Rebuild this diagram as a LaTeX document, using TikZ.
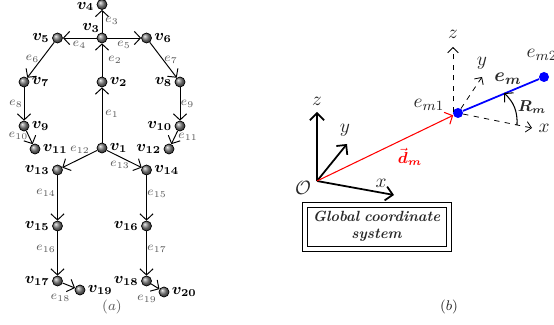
\documentclass[tikz,border=0pt]{standalone}
\usepackage{xcolor}
\usepackage{amsmath}
\usepackage{tikz}
\usetikzlibrary{arrows.meta, positioning, calc, shapes.geometric}
\definecolor{mytext}{RGB}{40,40,40}
\definecolor{myedge}{RGB}{90,90,90}
\tikzset{
  joint/.style={circle, draw=black, line width=0.4pt, shading=ball, ball color=black!50,
    minimum size=0.2cm, inner sep=0pt},
  endpt/.style={circle, fill=blue, minimum size=0.2cm, inner sep=0pt},
  vlabel/.style={font=\fontsize{8.6}{10}\selectfont, inner sep=1.2pt},
  elabel/.style={font=\scriptsize, text=myedge, inner sep=0pt},
  axlabel/.style={font=\fontsize{11}{13}\selectfont, text=mytext, inner sep=0pt},
  bone/.style={-{Straight Barb[length=3.5pt,width=7.5pt]}, line width=0.55pt, color=black},
  axis/.style={-{Straight Barb[length=4pt,width=8pt]}, line width=1pt, color=black},
  dashaxis/.style={-{Straight Barb[length=3pt,width=6pt]}, dashed, line width=0.45pt, color=black},
  outerbox/.style={rectangle, draw=black, line width=0.5pt, minimum width=2.98cm, minimum height=0.98cm},
  framebox/.style={rectangle, draw=black, line width=0.5pt, minimum width=2.78cm, minimum height=0.78cm,
    text width=2.7cm, align=center, font=\fontsize{8.4}{9.8}\selectfont\bfseries\itshape, text=mytext, inner sep=0pt}
}
\begin{document}
\begin{tikzpicture}[font=\small]
  \useasboundingbox (0,0) rectangle (11.08,6.5);

  % Skeleton joints
  \node[joint, label={[vlabel]right:$\boldsymbol{v_{1}}$}] (v1) at (2.04,3.54) {};
  \node[joint, label={[vlabel]right:$\boldsymbol{v_{2}}$}] (v2) at (2.04,4.86) {};
  \node[joint] (v3) at (2.04,5.74) {};
  \node[joint, label={[vlabel, yshift=-1.2pt]left:$\boldsymbol{v_{4}}$}] (v4) at (2.04,6.41) {};
  \node[joint, label={[vlabel]left:$\boldsymbol{v_{5}}$}] (v5) at (1.15,5.74) {};
  \node[joint, label={[vlabel]right:$\boldsymbol{v_{6}}$}] (v6) at (2.93,5.74) {};
  \node[joint, label={[vlabel]right:$\boldsymbol{v_{7}}$}] (v7) at (0.48,4.86) {};
  \node[joint, label={[vlabel]left:$\boldsymbol{v_{8}}$}] (v8) at (3.60,4.86) {};
  \node[joint, label={[vlabel]right:$\boldsymbol{v_{9}}$}] (v9) at (0.48,3.98) {};
  \node[joint, label={[vlabel]left:$\boldsymbol{v_{10}}$}] (v10) at (3.60,3.98) {};
  \node[joint, label={[vlabel]right:$\boldsymbol{v_{11}}$}] (v11) at (0.70,3.52) {};
  \node[joint, label={[vlabel]left:$\boldsymbol{v_{12}}$}] (v12) at (3.38,3.52) {};
  \node[joint, label={[vlabel]left:$\boldsymbol{v_{13}}$}] (v13) at (1.15,3.10) {};
  \node[joint, label={[vlabel]right:$\boldsymbol{v_{14}}$}] (v14) at (2.93,3.10) {};
  \node[joint, label={[vlabel]left:$\boldsymbol{v_{15}}$}] (v15) at (1.15,1.98) {};
  \node[joint, label={[vlabel]left:$\boldsymbol{v_{16}}$}] (v16) at (2.93,1.98) {};
  \node[joint, label={[vlabel]left:$\boldsymbol{v_{17}}$}] (v17) at (1.15,0.88) {};
  \node[joint, label={[vlabel]left:$\boldsymbol{v_{18}}$}] (v18) at (2.93,0.88) {};
  \node[joint, label={[vlabel]right:$\boldsymbol{v_{19}}$}] (v19) at (1.60,0.70) {};
  \node[joint, label={[vlabel]right:$\boldsymbol{v_{20}}$}] (v20) at (3.28,0.66) {};
  \node[vlabel] (v3lab) at (1.82,5.94) {$\boldsymbol{v_{3}}$};

  % Bones
  \draw[bone] (v1) -- (v2);
  \draw[bone] (v2) -- (v3);
  \draw[bone] (v3) -- (v4);
  \draw[bone] (v3) -- (v5);
  \draw[bone] (v3) -- (v6);
  \draw[bone] (v5) -- (v7);
  \draw[bone] (v6) -- (v8);
  \draw[bone] (v7) -- (v9);
  \draw[bone] (v8) -- (v10);
  \draw[bone] (v9) -- (v11);
  \draw[bone] (v10) -- (v12);
  \draw[bone] (v1) -- (v13);
  \draw[bone] (v1) -- (v14);
  \draw[bone] (v13) -- (v15);
  \draw[bone] (v14) -- (v16);
  \draw[bone] (v15) -- (v17);
  \draw[bone] (v16) -- (v18);
  \draw[bone] (v17) -- (v19);
  \draw[bone] (v18) -- (v20);

  % Bone labels
  \node[elabel] (e1) at (2.24,4.22) {$e_{1}$};
  \node[elabel] (e2) at (2.30,5.30) {$e_{2}$};
  \node[elabel] (e3) at (2.24,6.08) {$e_{3}$};
  \node[elabel] (e4) at (1.59,5.60) {$e_{4}$};
  \node[elabel] (e5) at (2.48,5.60) {$e_{5}$};
  \node[elabel] (e6) at (0.65,5.32) {$e_{6}$};
  \node[elabel] (e7) at (3.42,5.30) {$e_{7}$};
  \node[elabel] (e8) at (0.32,4.42) {$e_{8}$};
  \node[elabel] (e9) at (3.75,4.42) {$e_{9}$};
  \node[elabel] (e10) at (0.37,3.78) {$e_{10}$};
  \node[elabel] (e11) at (3.76,3.76) {$e_{11}$};
  \node[elabel] (e12) at (1.60,3.50) {$e_{12}$};
  \node[elabel] (e13) at (2.40,3.20) {$e_{13}$};
  \node[elabel] (e14) at (0.92,2.64) {$e_{14}$};
  \node[elabel] (e15) at (3.14,2.62) {$e_{15}$};
  \node[elabel] (e16) at (0.92,1.52) {$e_{16}$};
  \node[elabel] (e17) at (3.14,1.52) {$e_{17}$};
  \node[elabel] (e18) at (1.21,0.54) {$e_{18}$};
  \node[elabel] (e19) at (2.94,0.52) {$e_{19}$};
  \node[elabel, font=\footnotesize] (capa) at (2.24,0.36) {$(a)$};
  \node[axlabel, font=\footnotesize] (capb) at (8.98,0.36) {$(b)$};

  % Global frame
  \coordinate (orig) at (6.34,2.88);
  \node[axlabel] (olab) at (6.06,2.74) {$\mathcal{O}$};
  \coordinate (ztip) at (6.34,4.26);
  \coordinate (ytip) at (6.94,3.62);
  \coordinate (xtip) at (7.88,2.60);
  \draw[axis] (orig) -- (ztip);
  \draw[axis] (orig) -- (ytip);
  \draw[axis] (orig) -- (xtip);
  \node[axlabel] (zlab) at (6.34,4.48) {$z$};
  \node[axlabel] (ylab) at (6.90,3.90) {$y$};
  \node[axlabel] (xlab) at (7.62,2.84) {$x$};
  \node[outerbox] (globout) at (7.53,1.97) {};
  \node[framebox] (glob) at (7.53,1.97) {Global coordinate\\system};

  % Local frame
  \node[endpt] (em1) at (9.16,4.24) {};
  \node[endpt] (em2) at (10.88,4.96) {};
  \draw[blue, line width=1pt] (em1) -- (em2);
  \draw[-{Straight Barb[length=3.5pt,width=7.5pt]}, red, line width=0.6pt] (orig) -- (em1);
  \coordinate (zloc) at (9.06,5.56);
  \coordinate (zbase) at (9.06,4.26);
  \coordinate (yloc) at (9.64,4.96);
  \coordinate (xloc) at (10.64,3.94);
  \draw[dashaxis] (zbase) -- (zloc);
  \draw[dashaxis] (em1) -- (yloc);
  \draw[dashaxis] (em1) -- (xloc);
  \coordinate (arcs) at (10.34,4.0);
  \coordinate (arce) at (10.08,4.64);
  \draw[-{Straight Barb[length=3.5pt,width=7.5pt]}, line width=0.6pt] (arcs) to[bend right=25] (arce);

  \node[axlabel] (em1lab) at (8.58,4.40) {$e_{m1}$};
  \node[axlabel] (em2lab) at (10.84,5.40) {$e_{m2}$};
  \node[axlabel] (emlab) at (10.16,4.92) {$\boldsymbol{e_{m}}$};
  \node[axlabel, font=\small] (rlab) at (10.64,4.36) {$\boldsymbol{R_{m}}$};
  \node[axlabel, font=\small, text=red] (dlab) at (8.20,3.36) {$\vec{\boldsymbol{d}}_{\boldsymbol{m}}$};
  \node[axlabel] (zloclab) at (9.06,5.82) {$z$};
  \node[axlabel] (yloclab) at (9.64,5.24) {$y$};
  \node[axlabel] (xloclab) at (10.88,3.94) {$x$};
\end{tikzpicture}
\end{document}
